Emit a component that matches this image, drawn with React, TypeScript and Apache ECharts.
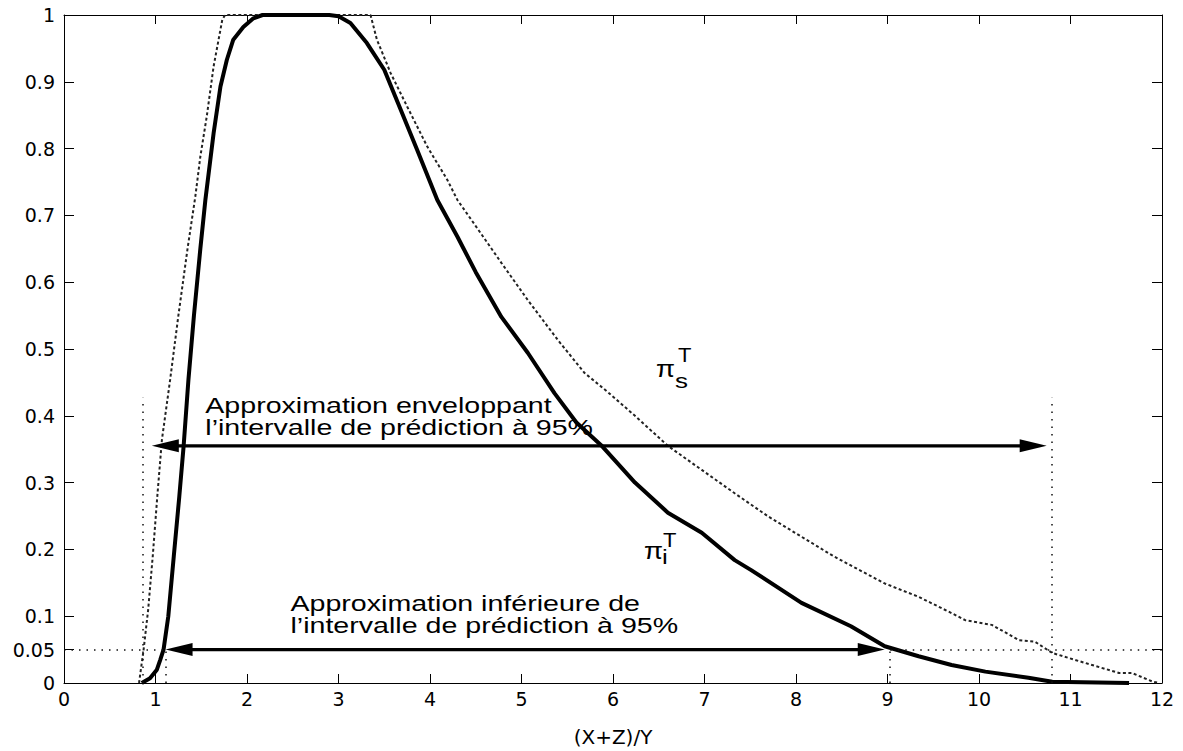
import React, { useEffect, useRef } from "react";
import * as echarts from "echarts";

// ---- axis ticks ----
const xTickValues = [0, 1, 2, 3, 4, 5, 6, 7, 8, 9, 10, 11, 12];
const yTickValues = [0, 0.05, 0.1, 0.2, 0.3, 0.4, 0.5, 0.6, 0.7, 0.8, 0.9, 1];
const xAxisTitle = "(X+Z)/Y";

// ---- lower approximation pi_i^T (solid) ----
const piInf: [number, number][] = [
  [0.85, 0], [0.94, 0.007], [1.015, 0.02], [1.05, 0.034], [1.088, 0.05], [1.14, 0.1],
  [1.2, 0.19], [1.26, 0.279], [1.307, 0.354], [1.36, 0.454], [1.42, 0.55], [1.49, 0.65],
  [1.545, 0.723], [1.635, 0.823], [1.71, 0.893], [1.78, 0.933], [1.85, 0.963], [1.96, 0.982],
  [2.07, 0.995], [2.17, 1], [2.9, 1], [3.0, 0.998], [3.13, 0.988], [3.31, 0.958], [3.5, 0.918],
  [3.68, 0.858], [3.86, 0.798], [4.08, 0.723], [4.3, 0.668], [4.5, 0.615], [4.78, 0.548],
  [5.07, 0.494], [5.36, 0.434], [5.6, 0.39], [5.87, 0.356], [6.24, 0.3], [6.6, 0.255],
  [6.97, 0.225], [7.33, 0.184], [7.51, 0.169], [8.06, 0.12], [8.6, 0.085], [8.97, 0.055],
  [9.34, 0.04], [9.7, 0.027], [10.07, 0.017], [10.54, 0.008], [10.8, 0.002], [11.64, 0],
];

// ---- enveloping approximation pi_s^T (dotted) ----
const piSup: [number, number][] = [
  [0.82, 0], [0.87, 0.05], [0.92, 0.11], [0.97, 0.19], [1.02, 0.28], [1.07, 0.364],
  [1.16, 0.454], [1.25, 0.55], [1.35, 0.65], [1.435, 0.728], [1.49, 0.788], [1.56, 0.848],
  [1.635, 0.923], [1.73, 0.993], [1.76, 1], [3.35, 1], [3.42, 0.963], [3.57, 0.913],
  [3.75, 0.863], [3.97, 0.803], [4.19, 0.753], [4.3, 0.723], [4.5, 0.684], [4.78, 0.629],
  [5.07, 0.573], [5.4, 0.513], [5.69, 0.464], [5.93, 0.437], [6.24, 0.4], [6.6, 0.355],
  [6.97, 0.319], [7.33, 0.284], [7.7, 0.249], [8.06, 0.219], [8.42, 0.189], [8.97, 0.149],
  [9.34, 0.129], [9.71, 0.104], [9.85, 0.094], [10.14, 0.087], [10.44, 0.064], [10.61, 0.062],
  [10.8, 0.045], [11.16, 0.03], [11.53, 0.015], [11.67, 0.015], [11.9, 0.002], [11.97, 0],
];

// ---- dotted reference segments ----
const refSegments: [number, number][][] = [
  [[0.865, 0], [0.865, 0.427]],
  [[10.8, 0], [10.8, 0.427]],
  [[0, 0.05], [1.11, 0.05]],
  [[1.11, 0], [1.11, 0.05]],
  [[9.03, 0], [9.03, 0.05]],
  [[9.03, 0.05], [12, 0.05]],
];

// ---- double arrows (tip to tip) ----
const upperArrow: [number, number][] = [[0.96, 0.355], [10.74, 0.355]];
const lowerArrow: [number, number][] = [[1.11, 0.05], [8.97, 0.05]];

// ---- annotation texts ----
const upperLines = ["Approximation enveloppant", "l\u2019intervalle de prédiction à 95%"];
const upperAnchor: [number, number] = [1.544, 0.404];
const lowerLines = ["Approximation inférieure de", "l\u2019intervalle de prédiction à 95%"];
const lowerAnchor: [number, number] = [2.475, 0.108];
const piSupAnchor: [number, number] = [6.471, 0.458];
const piInfAnchor: [number, number] = [6.34, 0.186];

const TEXT_FONT = "'Liberation Sans', Arial, Helvetica, sans-serif";
const AXIS_FONT = "'DejaVu Sans', sans-serif";

export default function App() {
  const ref = useRef<HTMLDivElement>(null);

  useEffect(() => {
    const chart = echarts.init(ref.current!, null, { renderer: "svg" });
    const black = "#000";
    const tickStyle = { color: black, width: 1 };

    chart.setOption({
      animation: false,
      backgroundColor: "#fff",
      grid: { left: 64, right: 21, top: 15, bottom: 68, containLabel: false, outerBoundsMode: "none" },
      xAxis: [
        {
          type: "value", min: 0, max: 12, interval: 1, position: "bottom",
          axisLine: { show: true, onZero: false, lineStyle: { color: black, width: 1 } },
          axisTick: { show: true, inside: true, length: 9, lineStyle: tickStyle, customValues: xTickValues },
          axisLabel: { color: black, fontFamily: AXIS_FONT, fontSize: 19, margin: 6, customValues: xTickValues },
          splitLine: { show: false },
          name: xAxisTitle, nameLocation: "middle", nameGap: 44,
          nameTextStyle: { color: black, fontFamily: AXIS_FONT, fontSize: 20 },
        },
        {
          type: "value", min: 0, max: 12, interval: 1, position: "top",
          axisLine: { show: true, onZero: false, lineStyle: { color: black, width: 1 } },
          axisTick: { show: true, inside: true, length: 9, lineStyle: tickStyle, customValues: xTickValues },
          axisLabel: { show: false },
          splitLine: { show: false },
        },
      ],
      yAxis: [
        {
          type: "value", min: 0, max: 1, position: "left",
          axisLine: { show: true, onZero: false, lineStyle: { color: black, width: 1 } },
          axisTick: { show: true, inside: true, length: 10, lineStyle: tickStyle, customValues: yTickValues },
          axisLabel: { color: black, fontFamily: AXIS_FONT, fontSize: 19, margin: 9, customValues: yTickValues },
          splitLine: { show: false },
        },
        {
          type: "value", min: 0, max: 1, position: "right",
          axisLine: { show: true, onZero: false, lineStyle: { color: black, width: 1 } },
          axisTick: { show: true, inside: true, length: 10, lineStyle: tickStyle, customValues: yTickValues },
          axisLabel: { show: false },
          splitLine: { show: false },
        },
      ],
      series: [
        {
          name: "pi_s^T", type: "line", xAxisIndex: 0, yAxisIndex: 0, data: piSup,
          showSymbol: false, symbol: "none", silent: true, z: 3,
          lineStyle: { color: "#222", width: 2, type: [3, 2.5] },
          markLine: {
            silent: true, symbol: ["none", "none"], label: { show: false },
            lineStyle: { color: "#111", width: 1.5, type: [1.5, 6] },
            data: refSegments.map((s) => [{ coord: s[0] }, { coord: s[1] }]),
          },
        },
        {
          name: "pi_i^T", type: "line", xAxisIndex: 0, yAxisIndex: 0, data: piInf,
          showSymbol: false, symbol: "none", silent: true, z: 4,
          lineStyle: { color: black, width: 4 },
        },
      ],
    });

    const px = (p: [number, number]) =>
      chart.convertToPixel({ seriesIndex: 1 }, p) as unknown as number[];

    const graphics: any[] = [];
    const L = 27;
    const W = 13;
    const addArrow = (a: [number, number][]) => {
      const p1 = px(a[0]);
      const p2 = px(a[1]);
      graphics.push({
        type: "line", z: 10,
        shape: { x1: p1[0] + L - 2, y1: p1[1], x2: p2[0] - L + 2, y2: p2[1] },
        style: { stroke: black, lineWidth: 3.2 },
      });
      graphics.push({
        type: "polygon", z: 10,
        shape: { points: [[p1[0], p1[1]], [p1[0] + L, p1[1] - W / 2], [p1[0] + L, p1[1] + W / 2]] },
        style: { fill: black },
      });
      graphics.push({
        type: "polygon", z: 10,
        shape: { points: [[p2[0], p2[1]], [p2[0] - L, p2[1] - W / 2], [p2[0] - L, p2[1] + W / 2]] },
        style: { fill: black },
      });
    };
    addArrow(upperArrow);
    addArrow(lowerArrow);

    const addText = (x: number, baseline: number, text: string, fs: number, sx: number) => {
      graphics.push({
        type: "text", z: 11, x, y: baseline - 0.35 * fs, scaleX: sx, originX: 0, originY: 0,
        style: { text, fill: black, fontSize: fs, fontFamily: TEXT_FONT, align: "left", verticalAlign: "middle" },
      });
    };
    const addLines = (lines: string[], anchor: [number, number]) => {
      const p = px(anchor);
      lines.forEach((t, i) => addText(p[0], p[1] + i * 22, t, 22, 1.3));
    };
    addLines(upperLines, upperAnchor);
    addLines(lowerLines, lowerAnchor);

    const addPi = (anchor: [number, number], sub: string, tOff: number[], sOff: number[]) => {
      const p = px(anchor);
      addText(p[0], p[1], "\u03c0", 24, 1.15);
      addText(p[0] + tOff[0], p[1] + tOff[1], "T", 20, 1.1);
      addText(p[0] + sOff[0], p[1] + sOff[1], sub, 20, 1.3);
    };
    addPi(piSupAnchor, "s", [22, -15], [19, 11]);
    addPi(piInfAnchor, "i", [19, -12], [18, 5]);

    chart.setOption({ graphic: graphics });

    return () => chart.dispose();
  }, []);

  return (
    <div
      ref={ref}
      style={{ position: "fixed", left: 0, top: 0, width: 1183, height: 751, background: "#fff" }}
    />
  );
}
